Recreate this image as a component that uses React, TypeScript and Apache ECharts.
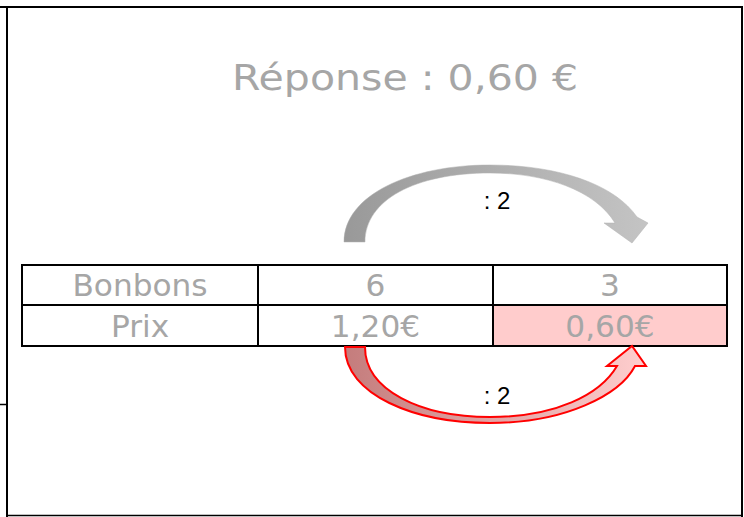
import React, { useEffect, useRef } from "react";
import * as echarts from "echarts";

// ---- data ----
const answerText = "Réponse : 0,60 €";
const rowLabels = ["Bonbons", "Prix"];
const column1 = ["6", "1,20€"];
const column2 = ["3", "0,60€"];
const operations = [": 2", ": 2"];
const highlightedCell = { row: 1, col: 2 };

// ---- layout ----
const colX = [22, 258, 493, 727];
const rowY = [265, 305, 346];

const GRAY_ARROW =
  "M 344 242 C 344 195 410 165 490 165 C 560 165 615 185 637 217 L 648 223 L 632 243 L 604 223 L 615 223 C 595 190 545 173 490 173 C 415 173 365 200 365 242 Z";
const RED_ARROW =
  "M 345 347 C 345 395 415 423 490 423 C 565 423 620 395 635 366 L 646 366 L 632 346 L 607 366 L 617 366 C 600 395 555 417 490 417 C 420 417 365 390 365 347 Z";

let registered = false;
function registerShapes() {
  if (registered) return;
  echarts.graphic.registerShape("grayArrow", echarts.graphic.extendPath(GRAY_ARROW, {}) as any);
  echarts.graphic.registerShape("redArrow", echarts.graphic.extendPath(RED_ARROW, {}) as any);
  registered = true;
}

export default function App() {
  const ref = useRef<HTMLDivElement>(null);
  useEffect(() => {
    document.body.style.margin = "0";
    registerShapes();
    const chart = echarts.init(ref.current!, null, { renderer: "svg" });
    const textGray = "#a6a6a6";
    const els: any[] = [];

    // frame lines
    const frame = (x1: number, y1: number, x2: number, y2: number, w: number) =>
      els.push({ type: "line", shape: { x1, y1, x2, y2 }, style: { stroke: "#000", lineWidth: w } });
    frame(0, 7, 743, 7, 2);
    frame(7, 6, 7, 517, 2);
    frame(742, 6, 742, 517, 2);
    frame(0, 404.5, 7, 404.5, 1.5);
    frame(6, 515.5, 743, 515.5, 1.5);

    // title
    els.push({
      type: "text",
      x: 405,
      y: 77,
      scaleX: 1.14,
      style: {
        text: answerText,
        fill: textGray,
        font: '36px "DejaVu Sans"',
        align: "center",
        verticalAlign: "middle",
      },
    });

    // highlighted cell
    els.push({
      type: "rect",
      shape: {
        x: colX[highlightedCell.col],
        y: rowY[highlightedCell.row],
        width: colX[highlightedCell.col + 1] - colX[highlightedCell.col],
        height: rowY[highlightedCell.row + 1] - rowY[highlightedCell.row],
      },
      style: { fill: "#ffcccc" },
    });

    // table lines
    rowY.forEach((y) => frame(colX[0] - 1, y, colX[3] + 1, y, 2));
    colX.forEach((x) => frame(x, rowY[0], x, rowY[2], 2));

    // cell texts
    const cols = [rowLabels, column1, column2];
    cols.forEach((col, c) => {
      col.forEach((t, r) => {
        els.push({
          type: "text",
          x: (colX[c] + colX[c + 1]) / 2,
          y: (rowY[r] + rowY[r + 1]) / 2 + 1,
          scaleX: 1.04,
          style: {
            text: t,
            fill: textGray,
            font: '30px "DejaVu Sans"',
            align: "center",
            verticalAlign: "middle",
          },
        });
      });
    });

    // arrows
    els.push({
      type: "grayArrow",
      x: 0,
      y: 0,
      style: {
        fill: new echarts.graphic.LinearGradient(0, 0, 1, 0, [
          { offset: 0, color: "#999999" },
          { offset: 1, color: "#c4c4c4" },
        ]),
        stroke: "#b0b0b0",
        lineWidth: 0.5,
      },
    });
    els.push({
      type: "redArrow",
      x: 0,
      y: 0,
      style: {
        fill: new echarts.graphic.LinearGradient(0, 0, 1, 0, [
          { offset: 0, color: "#c47c7c" },
          { offset: 1, color: "#ffcfcf" },
        ]),
        stroke: "#ff0000",
        lineWidth: 2,
      },
    });

    // operation labels
    const opY = [200, 395];
    operations.forEach((t, i) =>
      els.push({
        type: "text",
        x: 497,
        y: opY[i],
        style: {
          text: t,
          fill: "#000",
          font: '24px "Liberation Sans"',
          align: "center",
          verticalAlign: "middle",
        },
      })
    );

    chart.setOption({
      animation: false,
      backgroundColor: "#ffffff",
      graphic: { elements: els },
    });
    return () => chart.dispose();
  }, []);
  return (
    <div
      ref={ref}
      style={{ position: "absolute", left: 0, top: 0, width: 744, height: 517 }}
    />
  );
}
